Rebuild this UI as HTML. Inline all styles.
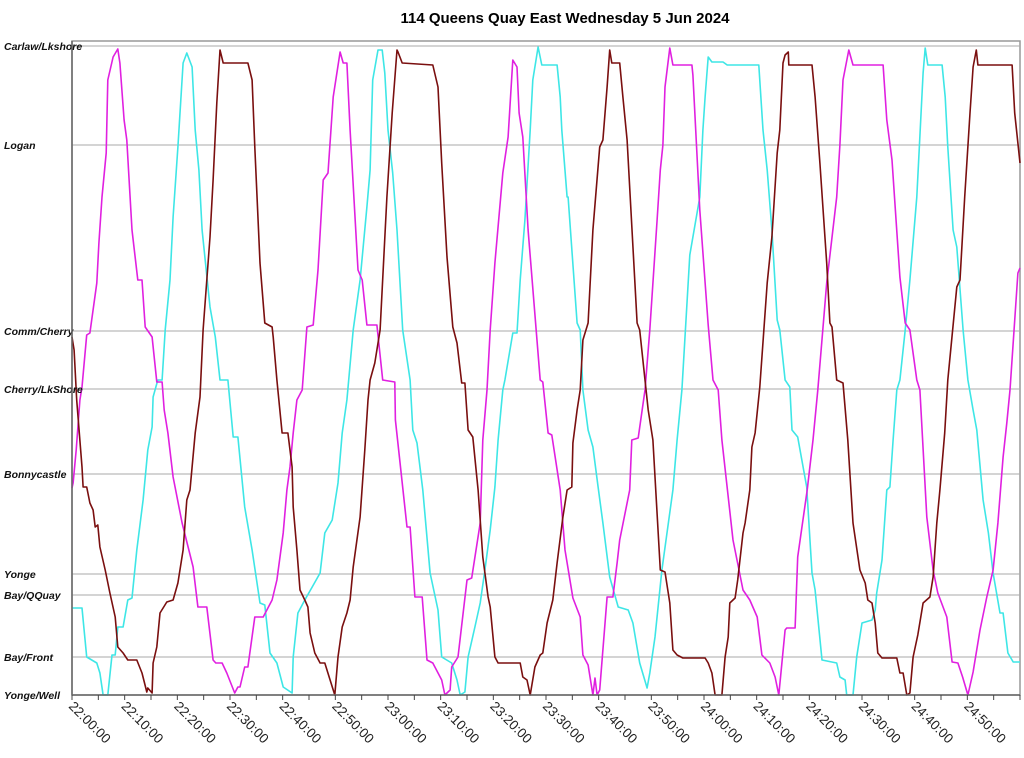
<!DOCTYPE html>
<html><head><meta charset="utf-8"><style>
body{margin:0;background:#fff;}
svg{display:block;font-family:"Liberation Sans",Arial,sans-serif;}
</style></head><body>
<svg id="chart" width="1024" height="758" viewBox="0 0 1024 758" xmlns="http://www.w3.org/2000/svg">
<text x="565" y="23" text-anchor="middle" font-size="15" font-weight="bold">114 Queens Quay East Wednesday 5 Jun 2024</text>
<g id="grid"></g><g id="series"></g><g id="axes"></g>
</svg>
<script>
const stopNames=["Carlaw/Lkshore","Logan","Comm/Cherry","Cherry/LkShore","Bonnycastle","Yonge","Bay/QQuay","Bay/Front","Yonge/Well"];
const stopDist=[649,550,364,306,221,121,100,38,0];
const tickLabels=["22:00:00","22:10:00","22:20:00","22:30:00","22:40:00","22:50:00","23:00:00","23:10:00","23:20:00","23:30:00","23:40:00","23:50:00","24:00:00","24:10:00","24:20:00","24:30:00","24:40:00","24:50:00"];
const magentaT=[0,0.2,0.8,1.5,1.9,2.8,3.4,4.7,5.1,5.7,6.5,6.8,7.8,8.7,9.1,9.9,10.4,11.4,12.5,13.3,13.9,15.2,16.1,17.1,17.5,18.2,19.2,20.9,23.0,23.9,25.6,26.8,27.3,28.5,29.4,30.9,31.5,31.9,32.8,33.4,34.7,36.3,38.0,38.9,40.1,40.8,41.4,42.0,42.7,43.7,44.6,45.8,46.7,47.7,48.6,49.6,50.9,51.5,52.2,52.8,54.3,55.1,56.0,57.9,59.0,61.3,61.4,63.6,64.2,65.1,66.5,67.4,68.5,70.2,70.8,71.8,72.1,73.3,75.0,75.9,77.5,78.0,78.8,79.4,80.3,81.8,82.8,83.7,84.5,84.9,85.6,86.6,88.9,89.4,90.4,91.1,92.7,93.6,95.1,96.5,97.0,98.0,98.9,99.3,99.7,100.2,101.6,102.7,103.5,104.0,105.9,106.3,107.5,108.8,109.7,111.1,111.7,112.2,112.6,113.5,114.1,117.7,117.9,119.2,120.8,121.7,122.7,123.4,125.5,127.4,128.7,130.1,131.0,132.5,133.5,134.2,135.4,135.7,137.3,137.8,139.6,140.7,141.6,143.3,145.2,145.8,146.4,147.5,148.3,154.0,154.7,155.7,157.2,158.2,159.1,160.4,161.0,162.3,163.5,164.4,166.1,167.1,168.2,169.1,170.1,171.1,172.4,173.7,174.9,175.8,176.8,177.5,178.1,179.6,180];
const magentaD=[207,212,245,295,308,360,362,412,452,498,542,615,638,646,632,575,555,465,415,415,368,358,313,313,285,262,218,172,128,88,88,35,32,32,22,2,8,8,28,28,78,78,95,115,162,205,228,262,295,305,368,370,425,515,522,598,643,632,632,565,425,415,370,370,315,313,275,168,168,98,98,35,32,15,0,5,28,38,115,117,172,255,305,365,432,522,558,635,628,582,558,465,315,313,262,260,205,145,97,78,40,30,0,17,0,5,98,98,132,155,205,255,257,305,365,475,525,550,608,647,630,630,620,485,370,315,305,255,155,105,95,78,40,32,18,0,65,67,67,138,205,255,305,412,498,550,615,645,630,630,575,535,418,372,365,315,305,178,125,102,78,33,32,18,0,23,65,98,125,172,238,272,305,422,427];
const cyanT=[0,1.9,2.8,4.7,5.3,5.9,6.8,7.6,8.2,8.7,9.7,10.6,11.4,12.3,13.5,14.4,15.2,15.4,16.3,17.1,17.7,18.6,19.2,20.1,21.1,21.8,22.8,23.4,24.1,24.7,26.2,27.2,28.1,29.6,30.6,31.5,32.8,34.2,35.7,36.6,37.6,38.9,40.1,41.8,42.0,42.9,44.2,45.6,47.1,48.0,49.4,50.5,51.3,52.2,53.4,54.7,56.0,56.6,57.1,58.1,58.9,59.4,60.0,60.9,61.7,62.8,64.2,64.7,65.5,66.6,68.0,69.5,70.2,72.1,73.1,73.7,74.6,75.2,76.5,77.5,78.4,79.4,80.3,80.9,81.8,82.2,83.7,84.5,85.1,86.0,87.0,87.5,88.5,89.2,92.1,92.7,93.0,94.0,94.2,95.9,96.5,97.0,98.0,98.9,99.9,100.8,102.1,103.7,105.6,106.5,107.8,109.2,109.7,110.7,112.0,114.1,114.9,115.8,117.3,119.2,119.8,120.2,120.8,121.5,123.6,124.4,130.4,131.2,132.0,132.9,133.9,134.4,135.4,136.3,136.7,137.8,139.5,140.5,141.1,142.4,145.2,145.8,146.8,147.1,148.3,149.0,150.0,151.9,152.5,152.8,153.8,154.7,155.3,155.9,156.6,157.2,158.2,159.1,160.4,161.6,162.0,162.5,165.2,165.8,166.3,167.3,168.0,169.2,170.1,171.1,171.8,173.0,174.0,174.9,176.2,176.8,177.7,178.7,180];
const cyanD=[87,87,38,32,22,0,0,40,40,68,68,95,97,145,195,245,268,298,315,315,365,415,478,548,632,642,628,565,525,465,388,358,315,315,258,258,188,145,92,90,42,32,8,2,38,82,95,108,122,162,175,212,262,295,365,415,488,525,615,645,645,622,565,522,465,365,315,265,252,205,122,85,38,32,15,0,3,38,68,92,125,165,208,255,305,315,362,362,415,475,565,615,648,630,630,598,565,498,498,372,365,305,265,248,208,172,118,88,85,72,32,7,22,58,125,205,255,305,440,498,565,598,638,633,633,630,630,565,525,465,375,365,315,308,265,258,208,122,105,35,32,18,15,0,0,38,72,75,85,102,135,205,208,255,305,315,365,415,498,622,647,630,630,598,548,465,448,365,315,285,265,195,162,122,82,82,42,33,33];
const brownT=[0,0.4,0.9,1.9,2.1,2.8,3.4,4.0,4.4,4.9,5.3,6.3,7.2,8.2,8.7,9.7,10.6,12.3,13.3,14.2,14.4,15.2,15.4,16.1,16.7,18.0,19.2,20.1,21.1,21.8,22.4,23.4,24.3,24.9,26.2,26.8,27.5,28.1,28.7,33.4,34.2,34.7,35.7,36.6,38.0,38.2,38.9,39.9,41.0,41.8,42.0,42.7,43.3,44.2,44.8,45.2,46.1,47.1,48.0,49.0,49.9,50.5,51.3,52.2,52.8,53.4,54.7,55.6,56.2,56.6,57.5,58.5,59.8,60.8,61.7,61.9,62.7,68.5,69.5,70.2,71.2,72.3,73.1,74.0,74.6,75.2,76.1,77.1,78.0,79.0,79.4,80.3,80.9,85.1,85.6,86.4,87.0,87.9,88.9,89.4,90.2,91.3,92.1,93.2,94.0,94.9,95.1,95.9,96.5,97.0,98.0,98.9,100.2,100.8,101.6,102.1,102.5,104.0,104.6,105.4,107.3,107.8,108.8,109.4,110.3,111.7,112.6,113.5,114.1,114.9,116.0,120.2,120.8,121.5,122.1,123.4,124.0,124.6,124.9,125.9,126.4,127.4,127.8,128.7,129.1,129.7,130.6,132.0,132.9,133.9,134.4,135.0,135.4,136.0,136.1,140.5,141.1,142.0,143.3,143.9,144.3,145.2,146.4,147.3,148.3,149.6,150.6,151.1,151.9,152.5,153.0,153.8,156.6,157.2,157.8,158.5,159.1,159.7,160.6,161.6,162.9,163.5,164.2,164.8,165.7,166.3,168.0,168.6,169.5,170.5,171.1,171.7,172.0,178.5,179.0,180];
const brownD=[358,345,295,228,208,208,192,185,168,170,148,125,102,78,48,42,35,35,22,3,7,2,32,48,82,93,95,112,145,195,205,262,298,365,458,515,592,645,632,632,615,548,432,372,368,358,315,262,262,228,188,145,105,95,88,62,42,32,32,15,0,38,68,82,95,128,178,245,295,315,332,365,498,582,645,643,632,630,608,532,438,368,352,312,312,265,258,205,138,98,88,38,32,32,18,15,0,28,40,42,72,95,132,178,205,208,252,285,305,355,372,465,548,555,608,645,632,632,598,555,372,365,315,285,255,125,123,92,45,40,37,37,32,22,0,0,38,58,92,97,115,162,172,205,248,262,308,412,458,542,565,632,640,643,630,630,598,532,432,372,368,315,312,255,172,125,112,95,92,72,42,37,37,22,22,0,2,38,60,92,98,118,172,205,262,315,408,415,498,582,628,645,630,630,582,532];

const NS="http://www.w3.org/2000/svg";
const X0=72,X1=1020,YB=695,YT=46,TMAX=180,DMAX=649;
function xs(t){return X0+t*(X1-X0)/TMAX;}
function ys(d){return YB-d*(YB-YT)/DMAX;}
function mk(tag,attrs,parent){const e=document.createElementNS(NS,tag);for(const k in attrs)e.setAttribute(k,attrs[k]);parent.appendChild(e);return e;}
const grid=document.getElementById('grid'),axes=document.getElementById('axes'),ser=document.getElementById('series');
mk('rect',{x:X0,y:41,width:X1-X0,height:YB-41,fill:'none',stroke:'#999','stroke-width':1.5},grid);
stopNames.forEach((n,i)=>{
  const y=ys(stopDist[i]);
  const l=mk('line',{x1:X0,x2:X1,y1:y,y2:y,stroke:'#aaa','stroke-width':1},grid);
  
  
  const t=mk('text',{x:4,y:y+4,'font-size':10.5,'font-style':'italic','font-weight':'bold',fill:'#111'},axes);
  t.textContent=n;
  
  
});
mk('line',{x1:X0,x2:X0,y1:41,y2:YB,stroke:'#666','stroke-width':1.5},axes);
mk('line',{x1:X0,x2:X1,y1:YB,y2:YB,stroke:'#666','stroke-width':1.5},axes);
for(let m=0;m<=TMAX;m+=5){const x=xs(m);mk('line',{x1:x,x2:x,y1:YB,y2:YB+5,stroke:'#444','stroke-width':1},axes);}
tickLabels.forEach((lab,i)=>{
  const x=xs(i*10);
  const t=mk('text',{x:0,y:0,'font-size':13.5,fill:'#222',transform:`translate(${x-4},${YB+12}) rotate(45)`},axes);
  t.textContent=lab;
  
  
});
function draw(T,D,color,name){
  const p=T.map((t,i)=>(i?'L':'M')+xs(t).toFixed(1)+','+ys(D[i]).toFixed(1)).join('');
  const e=mk('path',{d:p,fill:'none',stroke:color,'stroke-width':1.6,'stroke-linejoin':'round'},ser);
  
  
}
draw(cyanT,cyanD,'#3ee6e6','series-cyan-vehicle');
draw(magentaT,magentaD,'#e020e0','series-magenta-vehicle');
draw(brownT,brownD,'#7a0f0f','series-brown-vehicle');
</script>
</body></html>
